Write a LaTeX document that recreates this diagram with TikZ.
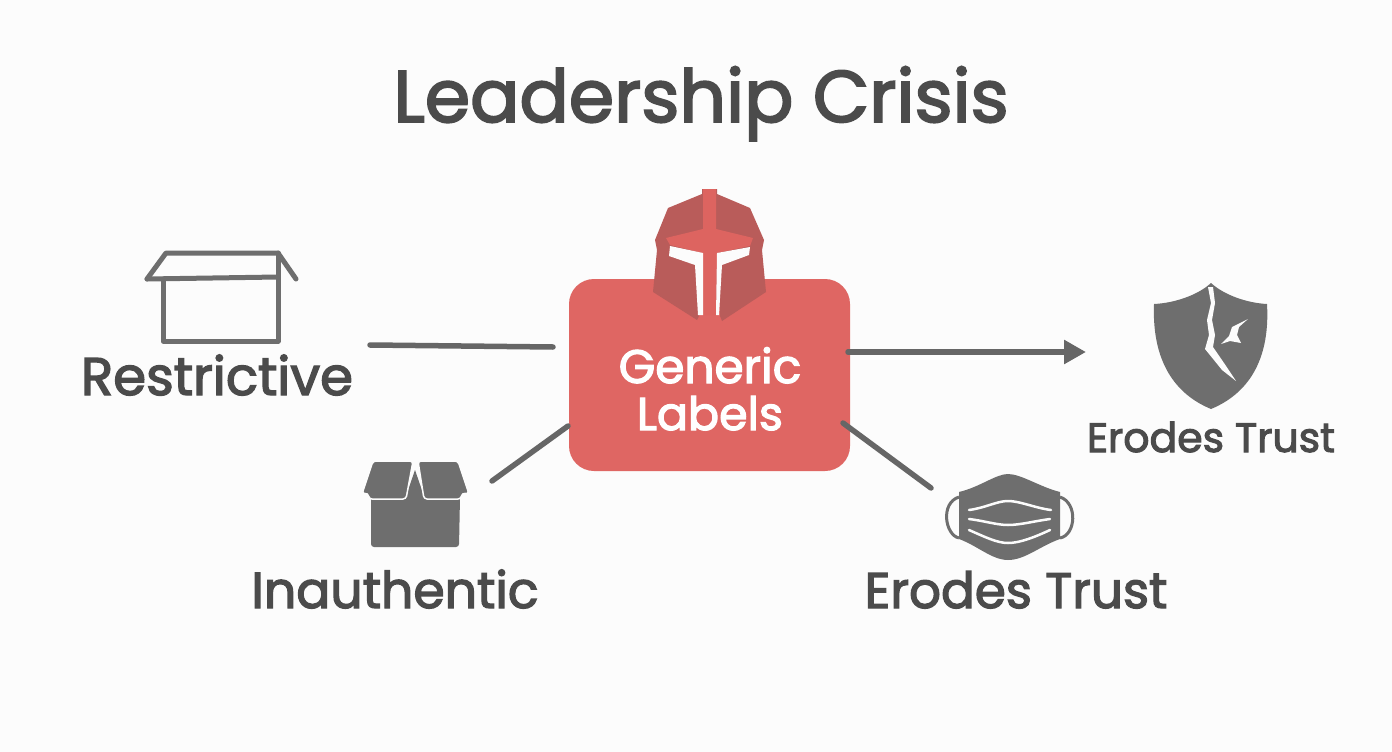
\documentclass[tikz,border=0pt]{standalone}
\usepackage{fontspec}
\newfontfamily\lf{Poppins}[RawFeature={embolden=2.6}]
\usetikzlibrary{arrows.meta}
\definecolor{bgc}{HTML}{FCFCFC}
\definecolor{txt}{HTML}{4B4B4B}
\definecolor{ico}{HTML}{6E6E6E}
\definecolor{lin}{HTML}{666666}
\definecolor{redb}{HTML}{DF6663}
\definecolor{redd}{HTML}{B95C5A}
\definecolor{redl}{HTML}{DD6460}
\tikzset{
  lbl/.style={anchor=base,text=txt,inner sep=0pt},
  conn/.style={draw=lin,line width=5.5pt,line cap=round},
  hubbox/.style={fill=redb,rounded corners=25pt,minimum width=281pt,minimum height=192pt,inner sep=0pt},
  gline/.style={draw=ico,line width=5pt,line join=round,line cap=round},
  wline/.style={draw=bgc,line width=2.5pt,line cap=round}
}
\begin{document}
\begin{tikzpicture}[x=1pt,y=-1pt]
\useasboundingbox (0,0) rectangle (1392,752);
\fill[bgc] (0,0) rectangle (1392,752);
% hub
\node[hubbox] (hub) at (709.5,375) {};
% helmet
\fill[redd] (702,189) -- (717,189) -- (717,194) -- (750,208) -- (764,240) -- (762,250) -- (766,292) -- (722,321) -- (720,316) -- (720,300) -- (700,300) -- (699,316) -- (697,320) -- (653,292) -- (657,250) -- (655,240) -- (668,208) -- (702,194) -- cycle;
\fill[redl] (703,189) -- (716,189) -- (716,229) -- (753,238) -- (750,246) -- (717,253) -- (716,315) -- (703,315) -- (702,253) -- (670,245) -- (666,238) -- (703,229) -- cycle;
\fill[bgc] (670,246) -- (703,253) -- (703,315) -- (698,315) -- (695,265) -- (669,256) -- cycle;
\fill[bgc] (750,247) -- (717,253) -- (716,315) -- (719,315) -- (722,265) -- (749,255) -- cycle;
% connectors
\coordinate (c1a) at (370,345); \coordinate (c1b) at (553,347);
\coordinate (c2a) at (492,481); \coordinate (c2b) at (568,426);
\coordinate (c3a) at (848,352); \coordinate (c3b) at (1086,352);
\coordinate (c4a) at (843,423); \coordinate (c4b) at (931,488);
\draw[conn] (c1a) -- (c1b);
\draw[conn] (c2a) -- (c2b);
\draw[conn,-{Triangle[length=22pt,width=23pt]}] (c3a) -- (c3b);
\draw[conn] (c4a) -- (c4b);
% open box
\draw[gline] (163,279) -- (163,341) -- (278,341) -- (278,253);
\draw[gline] (147,279) -- (278,277);
\draw[gline] (147,279) -- (166,253) -- (278,253) -- (296,279);
% closed box
\fill[ico,rounded corners=3pt] (371,497) -- (460,497) -- (459,547) -- (371,547) -- cycle;
\fill[ico] (405,499) -- (415,470) -- (425,499) -- cycle;
\fill[ico,draw=bgc,line width=1.5pt,rounded corners=3pt] (362,494) -- (373,461) -- (413,461) -- (406,499) -- (369,499) -- (368,493) -- cycle;
\fill[ico,draw=bgc,line width=1.5pt,rounded corners=3pt] (418,461) -- (458,461) -- (469,494) -- (462,493) -- (461,499) -- (424,499) -- cycle;
% mask
\draw[draw=ico,line width=3pt] (959,497) .. controls (940,503) and (945,535) .. (959,538);
\draw[draw=ico,line width=3pt] (1060,497) .. controls (1078,503) and (1076,535) .. (1060,538);
\fill[ico] (959,492) .. controls (980,487) and (996,474) .. (1008,474) .. controls (1021,474) and (1040,487) .. (1060,492) -- (1060,539) .. controls (1040,546) and (1025,560) .. (1008,560) .. controls (992,560) and (978,546) .. (959,539) -- cycle;
\draw[wline] (969,510) .. controls (985,508) and (997,501) .. (1008,501) .. controls (1020,501) and (1035,508) .. (1051,510);
\draw[wline] (969,519) .. controls (985,521) and (997,525) .. (1008,525) .. controls (1020,525) and (1035,521) .. (1050,519);
\draw[wline] (969,530) .. controls (985,537) and (997,543) .. (1008,543) .. controls (1020,543) and (1035,537) .. (1050,530);
% shield
\fill[ico] (1211,283) .. controls (1198,295) and (1175,303) .. (1154,304) .. controls (1152,355) and (1170,392) .. (1211,409) .. controls (1252,392) and (1270,355) .. (1267,304) .. controls (1247,303) and (1224,295) .. (1211,283) -- cycle;
\fill[bgc] (1208,287) -- (1213,287) -- (1215,303) -- (1212,320) -- (1215,335) -- (1213,347) -- (1224,363) -- (1236,381) -- (1222,370) -- (1205,349) -- (1209,335) -- (1207,320) -- (1211,303) -- cycle;
\fill[bgc] (1248,319) -- (1239,327) -- (1237,335) -- (1241,343) -- (1230,341) -- (1221,344) -- (1229,336) -- (1232,327) -- cycle;
% labels
\node[lbl,font=\lf\fontsize{73}{73}\selectfont] (title) at (701,122) {Leadership Crisis};
\node[lbl,text=white,font=\lf\fontsize{47}{47}\selectfont] (generic) at (710,383) {Generic};
\node[lbl,text=white,font=\lf\fontsize{46}{46}\selectfont] (labels) at (710,430) {Labels};
\node[lbl,font=\lf\fontsize{53}{53}\selectfont] (restr) at (217,395) {Restrictive};
\node[lbl,font=\lf\fontsize{50.5}{50.5}\selectfont] (inauth) at (395,608) {Inauthentic};
\node[lbl,font=\lf\fontsize{50}{50}\selectfont] (erode2) at (1016,608) {Erodes Trust};
\node[lbl,font=\lf\fontsize{41}{41}\selectfont] (erode1) at (1211,452) {Erodes Trust};
\end{tikzpicture}
\end{document}
